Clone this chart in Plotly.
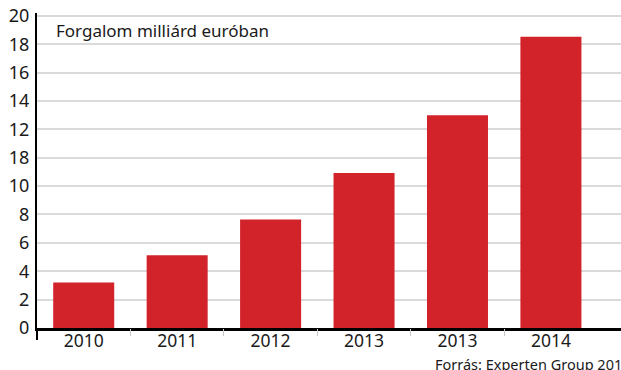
import plotly.graph_objects as go

# Turnover per year (billion EUR), as plotted on the linear value scale
years = ["2010", "2011", "2012", "2013", "2013", "2014"]
turnover = [3.2, 5.13, 7.65, 10.92, 15.0, 20.52]

# Y tick positions and the labels printed at them
y_tickvals = [0, 2, 4, 6, 8, 10, 12, 14, 16, 18, 20, 22]
y_ticktext = ["0", "2", "4", "6", "8", "10", "18", "12", "14", "16", "18", "20"]

title_text = "Forgalom milliárd euróban"
source_text = "Forrás: Experten Group 2014"

W, H = 621, 370
M_L, M_R, M_T, M_B = 37, 0, 13, 42
plot_h = H - M_T - M_B

FONT = "Noto Sans"
RED = "#d2232a"
GRID = "#dadada"
TEXT = "#1a1a1a"

xpos = list(range(len(years)))
x_range = [-0.5, 5.75]
y_range = [0, 22.2]

fig = go.Figure()
fig.add_trace(go.Bar(
    x=xpos, y=turnover, width=0.653,
    marker=dict(color=RED, line=dict(width=0)),
    hoverinfo="skip", showlegend=False,
))
# invisible trace that carries the boundary tick axis
fig.add_trace(go.Scatter(
    x=[x_range[0]], y=[0], xaxis="x2", mode="markers",
    marker=dict(opacity=0), hoverinfo="skip", showlegend=False,
))

fig.update_layout(
    width=W, height=H,
    margin=dict(l=M_L, r=M_R, t=M_T, b=M_B, pad=0),
    paper_bgcolor="white", plot_bgcolor="white",
    font=dict(family=FONT, color=TEXT),
    xaxis=dict(
        range=x_range, tickmode="array", tickvals=xpos, ticktext=years,
        showgrid=False, zeroline=False, ticks="",
        showline=True, linecolor="black", linewidth=2.5,
        tickfont=dict(family=FONT, size=17.5, color=TEXT),
        ticklabelstandoff=-5, fixedrange=True,
    ),
    xaxis2=dict(
        overlaying="x", side="bottom", range=x_range,
        tickmode="array", tickvals=[i + 0.5 for i in xpos[:-1]],
        ticks="outside", ticklen=7, tickwidth=1, tickcolor="#c8c8c8",
        showticklabels=False, showgrid=False, zeroline=False, showline=False,
    ),
    yaxis=dict(
        range=y_range, tickmode="array", tickvals=y_tickvals, ticktext=y_ticktext,
        showgrid=True, gridcolor=GRID, gridwidth=1.5,
        zeroline=False, ticks="",
        showline=True, linecolor="black", linewidth=2,
        tickfont=dict(family=FONT, size=18, color=TEXT),
        ticklabelstandoff=2, fixedrange=True,
    ),
    bargap=0.347,
    annotations=[
        dict(text=title_text, xref="paper", yref="paper",
             x=(54 - M_L) / (W - M_L - M_R), y=(H - M_B - 30) / plot_h,
             xanchor="left", yanchor="middle", showarrow=False,
             font=dict(family=FONT, size=17, color=TEXT)),
        dict(text=source_text, xref="paper", yref="paper",
             x=(433 - M_L) / (W - M_L - M_R), y=(H - M_B - 352) / plot_h,
             xanchor="left", yanchor="top", showarrow=False,
             font=dict(family=FONT, size=14.5, color=TEXT)),
    ],
    shapes=[
        # y axis line continues a little below the baseline
        dict(type="line", xref="paper", yref="paper",
             x0=0, x1=0, y0=-12 / plot_h, y1=0,
             line=dict(color="black", width=2)),
    ],
)

fig.write_html("out.html")
